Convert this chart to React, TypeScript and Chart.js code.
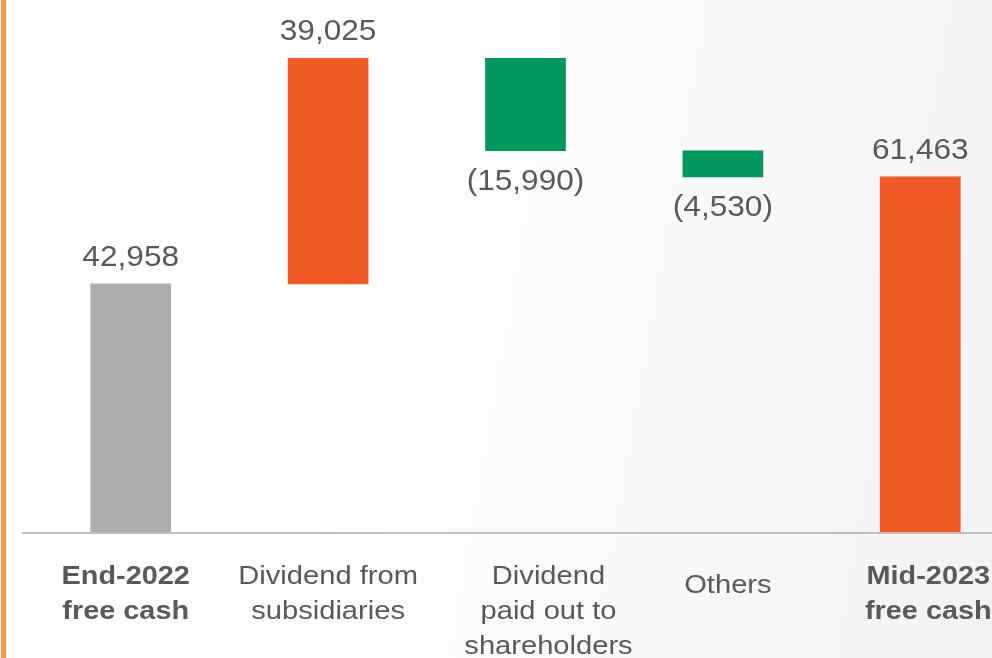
import React, { useEffect, useRef } from "react";
import { Chart, registerables } from "chart.js";

Chart.register(...registerables);

const categories: string[][] = [
  ["End-2022", "free cash"],
  ["Dividend from", "subsidiaries"],
  ["Dividend", "paid out to", "shareholders"],
  ["Others"],
  ["Mid-2023", "free cash"],
];
const changes = [42958, 39025, -15990, -4530, 61463];
const isTotal = [true, false, false, false, true];
const valueLabels = ["42,958", "39,025", "(15,990)", "(4,530)", "61,463"];
const boldCategory = [true, false, false, false, true];
const barColors = ["#ADADAD", "#F15A24", "#00965E", "#00965E", "#F15A24"];

// layout nudges for the category text boxes (pixels), not data
const LABEL_NUDGE = [-5, 0, 23, 5, 8];

function buildRanges(): [number, number][] {
  let run = 0;
  return changes.map((v, i) => {
    if (isTotal[i]) {
      run = v;
      return [0, v];
    }
    const start = run;
    run = run + v;
    return [start, run];
  });
}

const TEXT = "#595959";
const FONT = '"Liberation Sans", Arial, Helvetica, sans-serif';

function stretchedText(ctx: CanvasRenderingContext2D, text: string, x: number, y: number, sx: number) {
  ctx.save();
  ctx.translate(x, y);
  ctx.scale(sx, 1);
  ctx.fillText(text, 0, 0);
  ctx.restore();
}

const waterfallPlugin = {
  id: "waterfallDecor",
  beforeDatasetsDraw(chart: any) {
    const ctx = chart.ctx as CanvasRenderingContext2D;
    const y0 = chart.scales.y.getPixelForValue(0);
    ctx.save();
    ctx.strokeStyle = "#BFBFBF";
    ctx.lineWidth = 2;
    ctx.beginPath();
    ctx.moveTo(22, Math.round(y0) + 1);
    ctx.lineTo(chart.width, Math.round(y0) + 1);
    ctx.stroke();
    ctx.restore();
  },
  afterDraw(chart: any) {
    const ctx = chart.ctx as CanvasRenderingContext2D;
    const meta = chart.getDatasetMeta(0);
    const xs = chart.scales.x;
    const y0 = chart.scales.y.getPixelForValue(0);
    ctx.save();
    ctx.fillStyle = TEXT;
    ctx.textAlign = "center";
    ctx.textBaseline = "alphabetic";
    // value labels
    ctx.font = `29px ${FONT}`;
    meta.data.forEach((bar: any, i: number) => {
      const top = Math.min(bar.y, bar.base);
      const bottom = Math.max(bar.y, bar.base);
      if (changes[i] >= 0) {
        stretchedText(ctx, valueLabels[i], bar.x, top - 18, 1.09);
      } else {
        stretchedText(ctx, valueLabels[i], bar.x, bottom + 39, 1.09);
      }
    });
    // category labels
    categories.forEach((lines, i) => {
      const x = xs.getPixelForValue(i) + LABEL_NUDGE[i];
      ctx.font = `${boldCategory[i] ? "bold " : ""}26px ${FONT}`;
      const firstBase = lines.length === 1 ? y0 + 60.5 : y0 + 51.5;
      lines.forEach((ln, j) => {
        stretchedText(ctx, ln, x, firstBase + j * 35, boldCategory[i] ? 1.11 : 1.12);
      });
    });
    ctx.restore();
  },
};

export default function App() {
  const ref = useRef<HTMLCanvasElement | null>(null);
  useEffect(() => {
    if (!ref.current) return;
    const chart = new Chart(ref.current, {
      type: "bar",
      data: {
        labels: categories.map((c) => c.join(" ")),
        datasets: [
          {
            data: buildRanges() as any,
            backgroundColor: barColors,
            borderWidth: 0,
            barThickness: 80,
          },
        ],
      },
      options: {
        responsive: false,
        animation: false,
        layout: { padding: { left: 32, right: 21, top: 12, bottom: 126 } },
        plugins: { legend: { display: false }, tooltip: { enabled: false } },
        scales: {
          x: { display: false },
          y: { display: false, min: 0, max: 90000 },
        },
      },
      plugins: [waterfallPlugin],
    });
    return () => chart.destroy();
  }, []);
  return (
    <div
      style={{
        position: "fixed",
        left: 0,
        top: 0,
        width: 992,
        height: 658,
        overflow: "hidden",
        background: "linear-gradient(100deg, #ffffff 35%, #f2f2f2 100%)",
      }}
    >
      <canvas ref={ref} width={1040} height={658} style={{ position: "absolute", left: 0, top: 0 }} />
      <div style={{ position: "absolute", left: 1, top: 0, width: 5, height: 658, background: "#F79646" }} />
    </div>
  );
}
